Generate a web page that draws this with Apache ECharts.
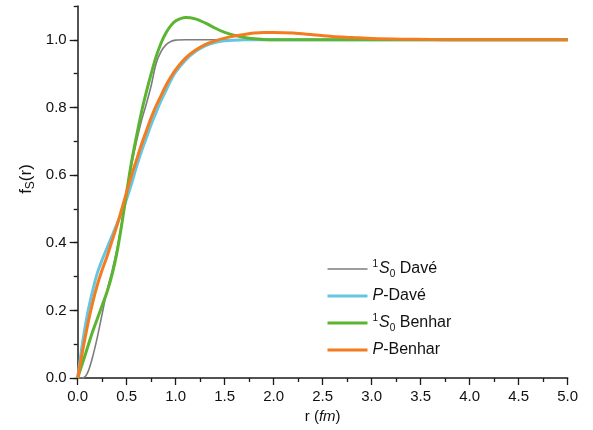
<!DOCTYPE html>
<html>
<head>
<meta charset="utf-8">
<script src="https://cdn.jsdelivr.net/npm/echarts@6/dist/echarts.min.js"></script>
<style>
  html, body { margin: 0; padding: 0; background: #fff; }
  #chart { width: 593px; height: 430px; }
</style>
</head>
<body>
<div id="chart"></div>
<script>
// Sample radii r (fm)
const rValues = [0, 0.05, 0.1, 0.15, 0.2, 0.25, 0.3, 0.35, 0.4, 0.45, 0.5, 0.55, 0.6, 0.65, 0.7, 0.75, 0.8, 0.85, 0.9, 0.95, 1.0,
  1.1, 1.2, 1.3, 1.4, 1.5, 1.6, 1.7, 1.8, 1.9, 2.0, 2.2, 2.4, 2.6, 2.8, 3.0, 3.3, 3.6, 4.0, 4.5, 5.0];

// Short-range correlation functions f_S(r)
const s0Dave = [0, 0, 0.015, 0.06, 0.12, 0.19, 0.26, 0.315, 0.38, 0.46, 0.55, 0.63, 0.70, 0.76, 0.81, 0.865, 0.93, 0.965, 0.985, 0.995, 0.999,
  1.0, 1.0, 1.0, 1.0, 1.0, 1.0, 1.0, 1.0, 1.0, 1.0, 1.0, 1.0, 1.0, 1.0, 1.0, 1.0, 1.0, 1.0, 1.0, 1.0];
const pDave = [0, 0.105, 0.19, 0.255, 0.31, 0.35, 0.385, 0.42, 0.455, 0.49, 0.53, 0.575, 0.625, 0.67, 0.71, 0.75, 0.785, 0.82, 0.85, 0.88, 0.905,
  0.94, 0.965, 0.982, 0.992, 0.997, 0.999, 1.0, 1.0, 1.0, 1.0, 1.0, 1.0, 1.0, 1.0, 1.0, 1.0, 1.0, 1.0, 1.0, 1.0];
const s0Benhar = [0, 0.045, 0.09, 0.135, 0.175, 0.215, 0.255, 0.305, 0.37, 0.455, 0.55, 0.64, 0.715, 0.785, 0.845, 0.90, 0.95, 0.99, 1.02, 1.042, 1.056,
  1.066, 1.062, 1.05, 1.035, 1.022, 1.013, 1.007, 1.003, 1.001, 1.0, 1.0, 1.0, 1.0, 1.0, 1.0, 1.0, 1.0, 1.0, 1.0, 1.0];
const pBenhar = [0, 0.08, 0.155, 0.22, 0.275, 0.32, 0.36, 0.405, 0.45, 0.50, 0.55, 0.60, 0.645, 0.69, 0.73, 0.77, 0.805, 0.835, 0.865, 0.89, 0.912,
  0.946, 0.969, 0.986, 0.997, 1.005, 1.011, 1.016, 1.02, 1.022, 1.022, 1.02, 1.015, 1.01, 1.007, 1.004, 1.002, 1.001, 1.0, 1.0, 1.0];

const seriesNames = ['s0Dave', 'pDave', 's0Benhar', 'pBenhar'];
const seriesValues = [s0Dave, pDave, s0Benhar, pBenhar];
const seriesColors = ['#7d7d7d', '#66c6e0', '#5cb531', '#f47b20'];
const seriesWidths = [1.6, 3, 3, 3];
const legendText = {
  s0Dave: '{sup|1}{it|S}{sub|0}{n| Davé}',
  pDave: '{it|P}{n|-Davé}',
  s0Benhar: '{sup|1}{it|S}{sub|0}{n| Benhar}',
  pBenhar: '{it|P}{n|-Benhar}'
};

const FONT = 'Liberation Sans, Arial, sans-serif';
const AXIS_COLOR = '#1a1a1a';

// plot area geometry
const gridLeft = 77.7, gridRight = 25.3, gridTop = 6, gridBottom = 52;
const yMax = 1.1;
const pxPerUnit = (430 - gridTop - gridBottom) / yMax;

const chart = echarts.init(document.getElementById('chart'), null, { renderer: 'canvas' });

const series = seriesNames.map((name, i) => ({
  name: name,
  type: 'line',
  xAxisIndex: 0,
  yAxisIndex: 0,
  data: rValues.map((r, k) => [r, seriesValues[i][k]]),
  showSymbol: false,
  symbol: 'none',
  smooth: 0.3,
  lineStyle: { color: seriesColors[i], width: seriesWidths[i] },
  itemStyle: { color: seriesColors[i] },
  z: 2 + i
}));

chart.setOption({
  animation: false,
  backgroundColor: '#ffffff',
  textStyle: { fontFamily: FONT },
  grid: [
    { left: gridLeft, right: gridRight, top: gridTop, bottom: gridBottom },
    // same scale, ending at 1.0, carries the major y ticks and labels
    { left: gridLeft, right: gridRight, top: gridTop + 0.1 * pxPerUnit, bottom: gridBottom }
  ],
  xAxis: [
    {
      type: 'value', gridIndex: 0, min: 0, max: 5, interval: 0.5,
      axisLine: { show: true, onZero: false, lineStyle: { color: AXIS_COLOR, width: 1.5 } },
      axisTick: { show: true, length: 7, lineStyle: { color: AXIS_COLOR, width: 1.3 } },
      minorTick: { show: true, splitNumber: 2, length: 4, lineStyle: { color: AXIS_COLOR, width: 1.3 } },
      splitLine: { show: false },
      axisLabel: { color: '#111', fontSize: 15, fontFamily: FONT, margin: 11, formatter: v => v.toFixed(1) },
      name: '{n|r (}{i|fm}{n|)}',
      nameLocation: 'middle',
      nameGap: 10,
      nameTextStyle: {
        rich: {
          n: { fontSize: 15, fontFamily: FONT, color: '#111' },
          i: { fontSize: 15, fontFamily: FONT, fontStyle: 'italic', color: '#111' }
        }
      }
    },
    { type: 'value', gridIndex: 1, min: 0, max: 5, show: false }
  ],
  yAxis: [
    {
      type: 'value', gridIndex: 0, min: 0, max: yMax, interval: 0.1,
      axisLine: { show: true, lineStyle: { color: AXIS_COLOR, width: 1.5 } },
      axisTick: { show: true, length: 4, lineStyle: { color: AXIS_COLOR, width: 1.3 } },
      splitLine: { show: false },
      axisLabel: { show: false }
    },
    {
      type: 'value', gridIndex: 1, min: 0, max: 1, interval: 0.2,
      axisLine: { show: false },
      axisTick: { show: true, length: 8, lineStyle: { color: AXIS_COLOR, width: 1.3 } },
      splitLine: { show: false },
      axisLabel: { color: '#111', fontSize: 15, fontFamily: FONT, margin: 11, formatter: v => v.toFixed(1) }
    }
  ],
  legend: {
    show: true,
    orient: 'vertical',
    left: 321,
    top: 254,
    itemWidth: 40,
    itemHeight: 14,
    itemGap: 9,
    data: seriesNames.map((name, i) => ({
      name: name,
      lineStyle: { width: seriesWidths[i], color: seriesColors[i] }
    })),
    itemStyle: { opacity: 0 },
    formatter: name => legendText[name],
    textStyle: {
      fontFamily: FONT,
      fontSize: 16,
      color: '#111',
      rich: {
        n: { fontSize: 16, fontFamily: FONT, color: '#111', lineHeight: 20, verticalAlign: 'middle' },
        it: { fontSize: 16, fontFamily: FONT, fontStyle: 'italic', color: '#111', lineHeight: 20, verticalAlign: 'middle' },
        sup: { fontSize: 10, fontFamily: FONT, color: '#111', lineHeight: 10, verticalAlign: 'top', padding: [0, 1, 0, 0] },
        sub: { fontSize: 10, fontFamily: FONT, color: '#111', lineHeight: 10, verticalAlign: 'bottom', padding: [2, 0, 0, 0] }
      }
    }
  },
  graphic: [
    {
      type: 'text',
      x: 26,
      y: 179,
      rotation: Math.PI / 2,
      style: {
        text: '{n|f}{sub|S}{n|(r)}',
        align: 'center',
        verticalAlign: 'middle',
        rich: {
          n: { fontSize: 17, fontFamily: FONT, fill: '#111', lineHeight: 22, verticalAlign: 'middle' },
          sub: { fontSize: 12, fontFamily: FONT, fill: '#111', lineHeight: 12, verticalAlign: 'bottom' }
        }
      }
    }
  ],
  series: series
});
</script>
</body>
</html>
